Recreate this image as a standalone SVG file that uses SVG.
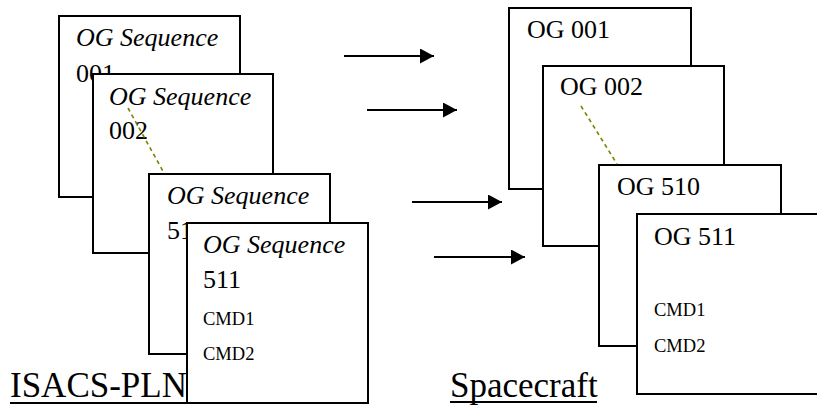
<svg xmlns="http://www.w3.org/2000/svg" width="817" height="412" viewBox="0 0 817 412">
  <style>
    .box { fill: #ffffff; stroke: #000000; stroke-width: 2; }
    .seq { font-family: "Liberation Serif", "Times New Roman", serif; font-size: 26px; font-style: italic; fill: #000; }
    .num { font-family: "Liberation Serif", "Times New Roman", serif; font-size: 26px; fill: #000; }
    .cmd { font-family: "Liberation Serif", "Times New Roman", serif; font-size: 18.5px; fill: #000; }
    .title { font-family: "Liberation Serif", "Times New Roman", serif; font-size: 35px; fill: #000; }
    .uline { stroke: #000; stroke-width: 2; }
    .arrow { stroke: #000; stroke-width: 2; fill: none; marker-end: url(#head); }
    .dash { stroke: #808000; stroke-width: 1.6; stroke-dasharray: 4 3.5; fill: none; }
  </style>
  <defs>
    <marker id="head" markerUnits="userSpaceOnUse" markerWidth="16" markerHeight="16" refX="14" refY="7.5" orient="auto">
      <path d="M0,0 L14,7.5 L0,15 Z" fill="#000"/>
    </marker>
  </defs>

  <rect width="817" height="412" fill="#ffffff"/>

  <!-- section titles -->
  <g id="label-isacs">
    <text class="title" x="10" y="397">ISACS-PLN</text>
    <line class="uline" x1="10" y1="403" x2="187" y2="403"/>
  </g>
  <g id="label-spacecraft">
    <text class="title" x="450" y="397">Spacecraft</text>
    <line class="uline" x1="450" y1="402" x2="597" y2="402"/>
  </g>

  <!-- ground side sequences -->
  <g id="seq-001">
    <rect class="box" x="59" y="16" width="181" height="181"/>
    <text class="seq" x="76" y="46">OG Sequence</text>
    <text class="num" x="76" y="82">001</text>
  </g>
  <g id="seq-002">
    <rect class="box" x="93" y="74" width="180" height="179"/>
    <text class="seq" x="109" y="105">OG Sequence</text>
    <text class="num" x="109" y="139">002</text>
  </g>
  <g id="seq-510">
    <rect class="box" x="149" y="174" width="181" height="180"/>
    <text class="seq" x="167" y="204">OG Sequence</text>
    <text class="num" x="167" y="239">510</text>
  </g>
  <g id="seq-511">
    <rect class="box" x="187" y="223" width="181" height="180"/>
    <text class="seq" x="203" y="253">OG Sequence</text>
    <text class="num" x="203" y="288">511</text>
    <text class="cmd" x="203" y="325">CMD1</text>
    <text class="cmd" x="203" y="360">CMD2</text>
  </g>

  <!-- onboard side sequences -->
  <g id="og-001">
    <rect class="box" x="509" y="8" width="182" height="181"/>
    <text class="num" x="527" y="38">OG 001</text>
  </g>
  <g id="og-002">
    <rect class="box" x="543" y="66" width="181" height="180"/>
    <text class="num" x="560" y="95">OG 002</text>
  </g>
  <g id="og-510">
    <rect class="box" x="599" y="165" width="182" height="181"/>
    <text class="num" x="617" y="195">OG 510</text>
  </g>
  <g id="og-511">
    <!-- runs past the right edge of the canvas -->
    <rect class="box" x="637" y="214" width="200" height="180"/>
    <text class="num" x="654" y="245">OG 511</text>
    <text class="cmd" x="654" y="316">CMD1</text>
    <text class="cmd" x="654" y="352">CMD2</text>
  </g>

  <!-- connectors -->
  <g id="connectors">
    <line class="arrow" x1="344" y1="56" x2="434" y2="56"/>
    <line class="arrow" x1="367" y1="110" x2="457" y2="110"/>
    <line class="arrow" x1="412" y1="202" x2="502" y2="202"/>
    <line class="arrow" x1="434" y1="257" x2="525" y2="257"/>
    <line class="dash" x1="128" y1="108" x2="164" y2="173"/>
    <line class="dash" x1="581" y1="106" x2="617" y2="164"/>
  </g>
</svg>
